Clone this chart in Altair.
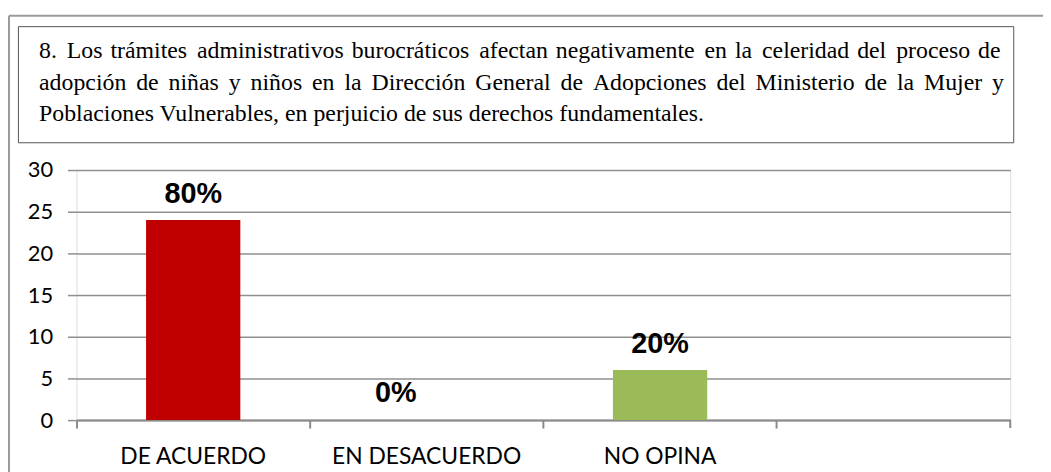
import altair as alt
import pandas as pd

categories = ["DE ACUERDO", "EN DESACUERDO", "NO OPINA"]
values = [24, 0, 6]
pct_labels = ["80%", "0%", "20%"]
bar_colors = ["#C00000", "#C00000", "#9BBB59"]
axis_domain = ["DE ACUERDO", "EN DESACUERDO", "NO OPINA", " "]
y_ticks = [0, 5, 10, 15, 20, 25, 30]

title_lines = [
    "8. Los trámites administrativos burocráticos afectan negativamente en la celeridad del proceso de",
    "adopción de niñas y niños en la Dirección General de Adopciones del Ministerio de la Mujer y",
    "Poblaciones Vulnerables, en perjuicio de sus derechos fundamentales.",
]
# justified lines: number of hair spaces added to each word gap (alternating pattern)
gap_pattern = [[2, 1], [2], [0]]


def justify(line, pattern):
    words = line.split(" ")
    out = words[0]
    for i, w in enumerate(words[1:]):
        out += " " + "\u200a" * pattern[i % len(pattern)] + w
    return out


title_text_str = "\n".join(justify(l, p) for l, p in zip(title_lines, gap_pattern))

df = pd.DataFrame({"cat": categories, "val": values, "lab": pct_labels, "col": bar_colors})
one = pd.DataFrame({"a": [0]})

W, H = 941, 252

x_enc = alt.X(
    "cat:N",
    scale=alt.Scale(domain=axis_domain, paddingInner=0, paddingOuter=0),
    sort=None,
    axis=alt.Axis(
        title=None, labelAngle=0, labelFont="Lato", labelFontSize=23, labelColor="#000000",
        labelPadding=18, labelLimit=0, bandPosition=0, tickSize=8, tickColor="#8a8a8a", tickWidth=2,
        domainColor="#8a8a8a", domainWidth=2, grid=False,
    ),
)
y_enc = alt.Y(
    "val:Q",
    scale=alt.Scale(domain=[0, 30], nice=False),
    axis=alt.Axis(
        title=None, values=y_ticks, labelFont="Lato", labelFontSize=22, labelColor="#000000",
        labelPadding=15, tickSize=9, tickColor="#8f8f8f", tickWidth=1.5,
        gridColor="#8f8f8f", gridWidth=1.5, domain=False,
    ),
)

bars = alt.Chart(df).mark_bar(size=95).encode(
    x=x_enc, y=y_enc, color=alt.Color("col:N", scale=None)
)

labels = alt.Chart(df).transform_filter("datum.val > 0").mark_text(
    font="Liberation Sans", fontWeight="bold", fontSize=29, baseline="alphabetic", dy=-17, color="#000000"
).encode(x=alt.X("cat:N", scale=alt.Scale(domain=axis_domain), sort=None), y="val:Q", text="lab:N")

zero_labels = alt.Chart(df).transform_filter("datum.val == 0").mark_text(
    font="Liberation Sans", fontWeight="bold", fontSize=29, baseline="alphabetic", dy=-18, dx=-31, color="#000000"
).encode(x=alt.X("cat:N", scale=alt.Scale(domain=axis_domain), sort=None), y="val:Q", text="lab:N")

end_tick = alt.Chart(one).mark_rule(color="#8a8a8a", strokeWidth=2).encode(
    x=alt.value(W), y=alt.value(H), y2=alt.value(H + 8)
)

outer_top = alt.Chart(one).mark_rule(color="#9a9a9a", strokeWidth=2).encode(
    x=alt.value(-68), x2=alt.value(1000), y=alt.value(-155.5)
)
outer_left = alt.Chart(one).mark_rule(color="#9a9a9a", strokeWidth=2).encode(
    x=alt.value(-68), y=alt.value(-155.5), y2=alt.value(400)
)

title_box = alt.Chart(one).mark_rect(fill="white", fillOpacity=0, stroke="#555555", strokeWidth=1).encode(
    x=alt.value(-58.5), x2=alt.value(944.5), y=alt.value(-144.5), y2=alt.value(-27.5)
)

title_text = alt.Chart(one).mark_text(
    font="Liberation Serif", fontSize=24, align="left", baseline="alphabetic",
    lineBreak="\n", lineHeight=31.7, color="#000000",
).encode(x=alt.value(-37.7), y=alt.value(-112.8), text=alt.value(title_text_str))

chart = alt.layer(outer_top, outer_left, title_box, title_text, bars, labels, zero_labels, end_tick).properties(
    width=W, height=H,
    autosize=alt.AutoSizeParams(type="none"),
    padding={"left": 69, "top": 161.5, "right": 33, "bottom": 50.5},
).configure_view(stroke=None).configure(background="white")

chart.save("out.html", embed_options={"renderer": "svg", "actions": False})
